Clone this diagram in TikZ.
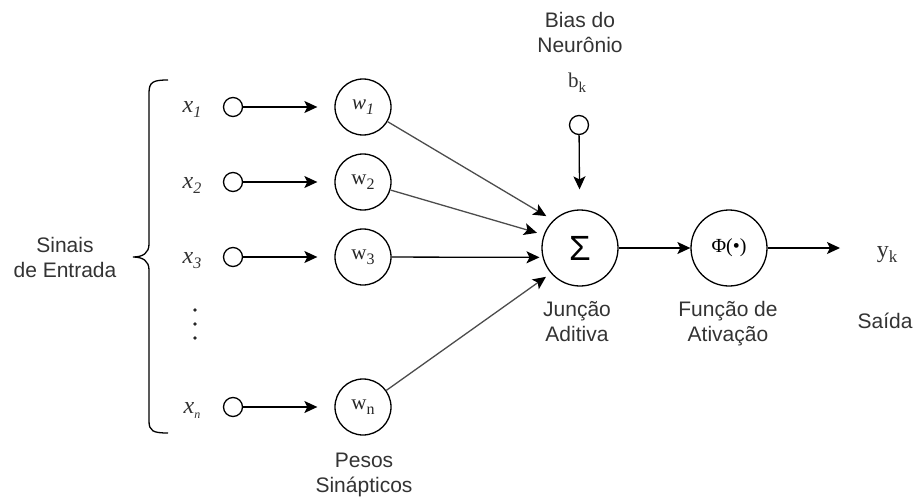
\documentclass[tikz,border=0pt]{standalone}
\usepackage{fontspec}
\setmainfont{Liberation Sans}
\newfontfamily\serif{Liberation Serif}
\usetikzlibrary{arrows.meta}
\newcommand\lowsub[2][16]{\raisebox{-5pt}{\fontsize{#1}{#1}\selectfont #2}}
\begin{document}
\begin{tikzpicture}[x=1pt,y=-1pt,
 wire/.style={line width=1.3pt,draw=black},
 arr/.style={wire,-{Stealth[length=13pt,width=12pt,inset=3pt,color=black]}},
 garr/.style={arr,draw=black!70},
 port/.style={circle,draw,line width=1.3pt,minimum size=19pt,inner sep=0},
 wt/.style={circle,draw,line width=1.3pt,minimum size=56pt,inner sep=0,text=black!85,font=\serif\fontsize{21}{21}\selectfont},
 big/.style={circle,draw,line width=1.3pt,minimum size=76pt,inner sep=0},
 lab/.style={font=\fontsize{21}{25}\selectfont,align=center,text=black!80,inner sep=0,anchor=base},
 sym/.style={font=\serif\fontsize{24}{24}\selectfont,text=black!80,inner sep=0,anchor=base},
 dotmark/.style={circle,fill=black!85,inner sep=0,minimum size=3.6pt}]
\useasboundingbox (0,0) rectangle (920,500);

% input ports
\node[port] (in1) at (233,107) {};
\node[port] (in2) at (233,182) {};
\node[port] (in3) at (233,257) {};
\node[port] (inn) at (233,407) {};

% input labels
\node[sym] (lx1) at (192,113) {\itshape x\lowsub{1}};
\node[sym] (lx2) at (192,188) {\itshape x\lowsub{2}};
\node[sym] (lx3) at (192,263) {\itshape x\lowsub{3}};
\node[sym] (lxn) at (192,413) {\itshape x\lowsub[12]{n}};

% ellipsis
\node[dotmark] (d1) at (195,310) {};
\node[dotmark] (d2) at (195,324) {};
\node[dotmark] (d3) at (195,338) {};

% weights
\node[wt] (w1) at (363,107) {\itshape w\lowsub{1}};
\node[wt] (w2) at (363,182) {w\lowsub{2}};
\node[wt] (w3) at (363,257) {w\lowsub{3}};
\node[wt] (wn) at (363,407) {w\lowsub{n}};

% summing junction and activation
\node[big] (sum) at (580,248) {\fontsize{35}{35}\selectfont Σ};
\node[big] (phi) at (729,248) {\serif\fontsize{20}{20}\selectfont Φ(•)};

% bias
\node[port] (bias) at (579,125) {};
\node[sym,font=\serif\fontsize{21}{21}\selectfont] (lb) at (577,88) {b\lowsub[15]{k}};

% output
\coordinate (out) at (840,248);
\node[sym] (ly) at (887,257) {y\lowsub[17]{k}};

% connectors
\draw[arr,shorten >=17pt] (in1) -- (w1);
\draw[arr,shorten >=17pt] (in2) -- (w2);
\draw[arr,shorten >=17pt] (in3) -- (w3);
\draw[arr,shorten >=17pt] (inn) -- (wn);

\draw[garr,shorten >=8pt] (w1) -- (sum.134);
\draw[garr,shorten >=7pt] (w2) -- (sum.160);
\draw[arr,shorten >=3pt] (w3) -- (sum.194);
\draw[garr,shorten >=6pt] (wn) -- (sum.221);

\draw[arr,shorten >=20pt] (bias) -- (sum);
\draw[arr] (sum) -- (phi);
\draw[arr] (phi) -- (out);

% brace
\draw[wire] (168,80) .. controls (153,80) and (149,82) .. (149,93)
  -- (149,244) .. controls (149,253) and (143,257) .. (133,257)
  .. controls (143,257) and (149,261) .. (149,270)
  -- (149,421) .. controls (149,431) and (153,433) .. (168,433);

% text labels (base = baseline of last line)
\node[lab] (tsin) at (65,277) {Sinais\\de Entrada};
\node[lab] (tbias) at (580,53) {Bias do\\Neurônio};
\node[lab] (tjun) at (577,341) {Junção\\Aditiva};
\node[lab] (tfun) at (728,341) {Função de\\Ativação};
\node[lab] (tsai) at (885,328) {Saída};
\node[lab] (tpes) at (364,492) {Pesos\\Sinápticos};
\end{tikzpicture}
\end{document}
